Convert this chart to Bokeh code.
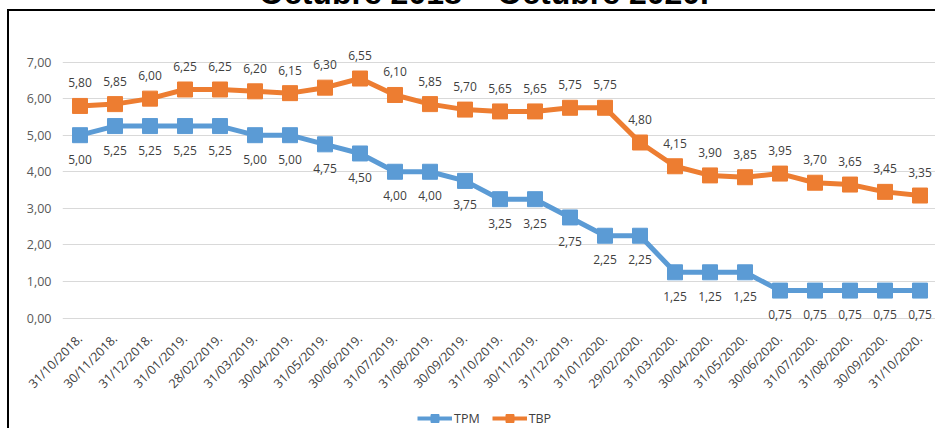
from math import pi
from bokeh.plotting import figure
from bokeh.layouts import column
from bokeh.models import ColumnDataSource, FixedTicker, Range1d, Legend, LegendItem, Div
from bokeh.core.properties import value
from bokeh.embed import file_html
from bokeh.resources import INLINE

title_text = "Octubre 2018 – Octubre 2020."
dates = ["31/10/2018.", "30/11/2018.", "31/12/2018.", "31/01/2019.", "28/02/2019.",
         "31/03/2019.", "30/04/2019.", "31/05/2019.", "30/06/2019.", "31/07/2019.",
         "31/08/2019.", "30/09/2019.", "31/10/2019.", "30/11/2019.", "31/12/2019.",
         "31/01/2020.", "29/02/2020.", "31/03/2020.", "30/04/2020.", "31/05/2020.",
         "30/06/2020.", "31/07/2020.", "31/08/2020.", "30/09/2020.", "31/10/2020."]
tpm = [5.00, 5.25, 5.25, 5.25, 5.25, 5.00, 5.00, 4.75, 4.50, 4.00, 4.00, 3.75, 3.25,
       3.25, 2.75, 2.25, 2.25, 1.25, 1.25, 1.25, 0.75, 0.75, 0.75, 0.75, 0.75]
tbp = [5.80, 5.85, 6.00, 6.25, 6.25, 6.20, 6.15, 6.30, 6.55, 6.10, 5.85, 5.70, 5.65,
       5.65, 5.75, 5.75, 4.80, 4.15, 3.90, 3.85, 3.95, 3.70, 3.65, 3.45, 3.35]
y_ticks = [0, 1, 2, 3, 4, 5, 6, 7]
y_tick_labels = ["0,00", "1,00", "2,00", "3,00", "4,00", "5,00", "6,00", "7,00"]

def fmt(v):
    return f"{v:.2f}".replace(".", ",")

src = ColumnDataSource(data=dict(
    x=dates, tpm=tpm, tbp=tbp,
    tpm_lbl=[fmt(v) for v in tpm], tbp_lbl=[fmt(v) for v in tbp],
))

FONT = "Open Sans"
BLUE = "#5B9BD5"
ORANGE = "#ED7D31"

# title, cropped at the top as in the reference picture
title = Div(text=('<div style="position:relative; top:-23px; left:259px; '
                  'text-align:left; white-space:nowrap; font-family:\'Liberation Sans\'; '
                  'font-weight:bold; font-size:32px; line-height:32px; color:#000;">'
                  + title_text + '</div>'),
            width=935, height=9, margin=0, styles={"overflow": "hidden"})

p = figure(x_range=dates, y_range=Range1d(-0.15, 8.0), width=928, height=389,
           output_backend="svg", toolbar_location=None, margin=(0, 0, 0, 7),
           min_border_left=53, min_border_right=0, min_border_top=14, min_border_bottom=73)
p.outline_line_color = None
p.styles = {"border-left": "2px solid #000", "border-top": "2px solid #000"}

p.line("x", "tpm", source=src, line_color=BLUE, line_width=5)
p.scatter("x", "tpm", source=src, marker="square", size=15, fill_color=BLUE, line_color=BLUE)
p.line("x", "tbp", source=src, line_color=ORANGE, line_width=5)
p.scatter("x", "tbp", source=src, marker="square", size=15, fill_color=ORANGE, line_color=ORANGE)

p.text("x", "tbp", text="tbp_lbl", source=src, y_offset=-23, text_align="center",
       text_baseline="middle", text_font=value(FONT), text_font_size="12px",
       text_color="#404040")
p.text("x", "tpm", text="tpm_lbl", source=src, y_offset=24, text_align="center",
       text_baseline="middle", text_font=value(FONT), text_font_size="12px",
       text_color="#404040")

p.yaxis.ticker = FixedTicker(ticks=y_ticks)
p.yaxis.major_label_overrides = {t: s for t, s in zip(y_ticks, y_tick_labels)}
p.yaxis.axis_line_color = None
p.yaxis.major_tick_line_color = None
p.yaxis.minor_tick_line_color = None
p.yaxis.major_label_text_font = FONT
p.yaxis.major_label_text_font_size = "12.5px"
p.yaxis.major_label_text_color = "#595959"

p.xaxis.axis_line_color = None
p.xaxis.major_tick_line_color = None
p.xaxis.major_label_orientation = pi / 4
p.xaxis.major_label_text_font = FONT
p.xaxis.major_label_text_font_size = "12.5px"
p.xaxis.major_label_text_color = "#404040"
p.xaxis.major_label_standoff = 7

p.xgrid.grid_line_color = None
p.ygrid.grid_line_color = "#D9D9D9"
p.ygrid.grid_line_width = 1

# legend strip: same series drawn through a range that keeps them out of view
q = figure(x_range=p.x_range, y_range=Range1d(100, 101), width=928, height=30,
           output_backend="svg", toolbar_location=None, margin=(0, 0, 0, 7),
           x_axis_location=None, y_axis_location=None, min_border=0)
q.outline_line_color = None
q.grid.grid_line_color = None
q.styles = {"border-left": "2px solid #000"}
ql1 = q.line("x", "tpm", source=src, line_color=BLUE, line_width=4)
qs1 = q.scatter("x", "tpm", source=src, marker="square", size=9, fill_color=BLUE, line_color=BLUE)
ql2 = q.line("x", "tbp", source=src, line_color=ORANGE, line_width=4)
qs2 = q.scatter("x", "tbp", source=src, marker="square", size=9, fill_color=ORANGE, line_color=ORANGE)

legend = Legend(items=[LegendItem(label="TPM", renderers=[ql1, qs1]),
                       LegendItem(label="TBP", renderers=[ql2, qs2])],
                orientation="horizontal", location=(355, 0),
                label_text_font=FONT, label_text_font_size="12.5px",
                label_text_color="#404040", border_line_color=None,
                background_fill_alpha=0, glyph_width=35, glyph_height=20,
                label_standoff=2, spacing=12, padding=0, margin=0)
q.add_layout(legend, "center")

layout = column(title, p, q, spacing=0)
open("out.html", "w").write(file_html(layout, INLINE))
